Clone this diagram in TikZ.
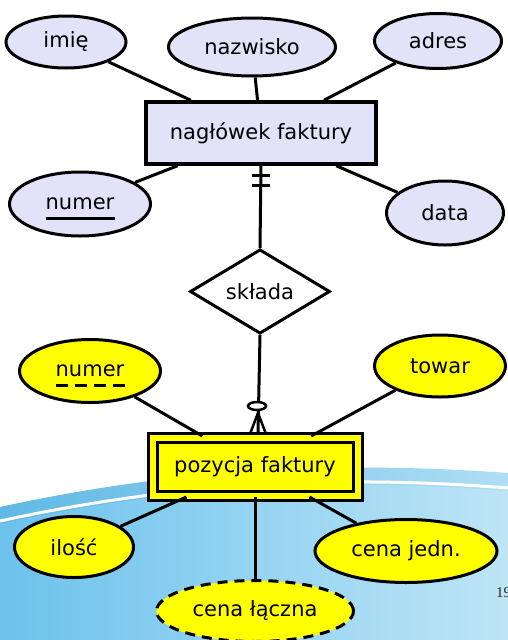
\documentclass[tikz,border=0pt]{standalone}
\usepackage{fontspec}
\setmainfont{DejaVu Sans}
\newfontfamily\numfont{Liberation Serif}
\usetikzlibrary{shapes.geometric,calc}
\definecolor{lav}{RGB}{226,226,248}
\definecolor{yel}{RGB}{255,255,0}
\definecolor{bandL}{RGB}{96,184,230}
\definecolor{bandR}{RGB}{175,222,244}
\definecolor{mainL}{RGB}{108,194,236}
\definecolor{mainR}{RGB}{190,229,246}
\tikzset{
  attr/.style={ellipse, draw, line width=3pt, fill=lav, inner sep=0pt, font=\fontsize{21}{25}\selectfont},
  yattr/.style={attr, fill=yel},
  entbox/.style={rectangle, draw, line width=3.5pt, fill=lav, inner sep=0pt, font=\fontsize{21}{25}\selectfont},
  relbox/.style={diamond, draw, line width=3pt, fill=white, inner sep=0pt, font=\fontsize{21}{25}\selectfont},
  conn/.style={line width=3pt},
}
\begin{document}
\begin{tikzpicture}[x=1pt,y=-1pt]
\useasboundingbox (0,0) rectangle (508,640);
\fill[white] (0,0) rectangle (508,640);
\begin{scope}
\clip (0,0) rectangle (508,640);
\shade[left color=bandL, right color=bandR] (0,507) .. controls (170,470) and (330,460) .. (508,473) -- (508,640) -- (0,640) -- cycle;
\draw[white, line width=3pt] (0,521) .. controls (170,484) and (330,474) .. (508,488);
\shade[left color=mainL, right color=mainR] (0,524) .. controls (170,487) and (330,477) .. (508,491) -- (508,640) -- (0,640) -- cycle;
\node[font=\numfont\fontsize{15}{18}\selectfont, anchor=base west, inner sep=0pt, text=black!85] (pg) at (496,597) {19};
\end{scope}

% header entity
\node[entbox, minimum width=230pt, minimum height=62pt] (hdr) at (261,133) {nagłówek faktury};
\node[attr, minimum width=120pt, minimum height=52pt] (imie) at (66,42) {imię};
\node[attr, minimum width=167pt, minimum height=58pt] (nazw) at (252,47) {nazwisko};
\node[attr, minimum width=127pt, minimum height=55pt] (adres) at (438,41) {adres};
\node[attr, minimum width=141pt, minimum height=64pt] (numer) at (80,204) {numer};
\node[attr, minimum width=117pt, minimum height=64pt] (data) at (445,213) {data};
\draw[line width=3pt] ($(numer.center)+(-34,14)$) -- ($(numer.center)+(35,14)$);

\foreach \a in {imie,nazw,adres,numer,data} \draw[conn] (\a) -- (hdr);

% relationship
\node[relbox, minimum width=140pt, minimum height=79pt] (rel) at (260,291.5) {składa};
\draw[conn] (hdr.south) -- (rel.north);
\draw[conn] ($(hdr.south)+(-9,10)$) -- ++(18,0);
\draw[conn] ($(hdr.south)+(-9,20)$) -- ++(18,0);

% item entity
\node[rectangle, draw, line width=3pt, double=yel, double distance=6pt, fill=yel, inner sep=0pt,
      minimum width=205pt, minimum height=58pt, font=\fontsize{21}{25}\selectfont] (pos) at (255,466.5) {pozycja faktury};
\coordinate (cf) at (258,434);
\draw[conn] (rel.south) -- (cf);
\coordinate (cft) at (258,413);
\draw[line width=2.5pt] (cft) -- ($(cf)+(-8,0)$);
\draw[line width=2.5pt] (cft) -- (cf);
\draw[line width=2.5pt] (cft) -- ($(cf)+(8,0)$);
\draw[line width=2.5pt, fill=white] (257,406) ellipse [x radius=9pt, y radius=4pt];

\node[yattr, minimum width=141pt, minimum height=63pt] (ynum) at (90,371) {numer};
\draw[line width=3pt, dash pattern=on 12pt off 7pt] ($(ynum.center)+(-34,14)$) -- ($(ynum.center)+(35,14)$);
\node[yattr, minimum width=131pt, minimum height=62pt] (towar) at (440,366) {towar};
\node[yattr, minimum width=119pt, minimum height=61pt] (ilosc) at (74,547) {ilość};
\node[yattr, minimum width=182pt, minimum height=63pt] (cenaj) at (406,551) {cena jedn.};
\node[yattr, dash pattern=on 10pt off 7pt, minimum width=197pt, minimum height=61pt] (cenal) at (255,611) {cena łączna};

\foreach \a in {ynum,towar,ilosc,cenaj} \draw[conn] (\a) -- (pos);
\draw[conn] (pos.south) -- (cenal.north);
\end{tikzpicture}
\end{document}
